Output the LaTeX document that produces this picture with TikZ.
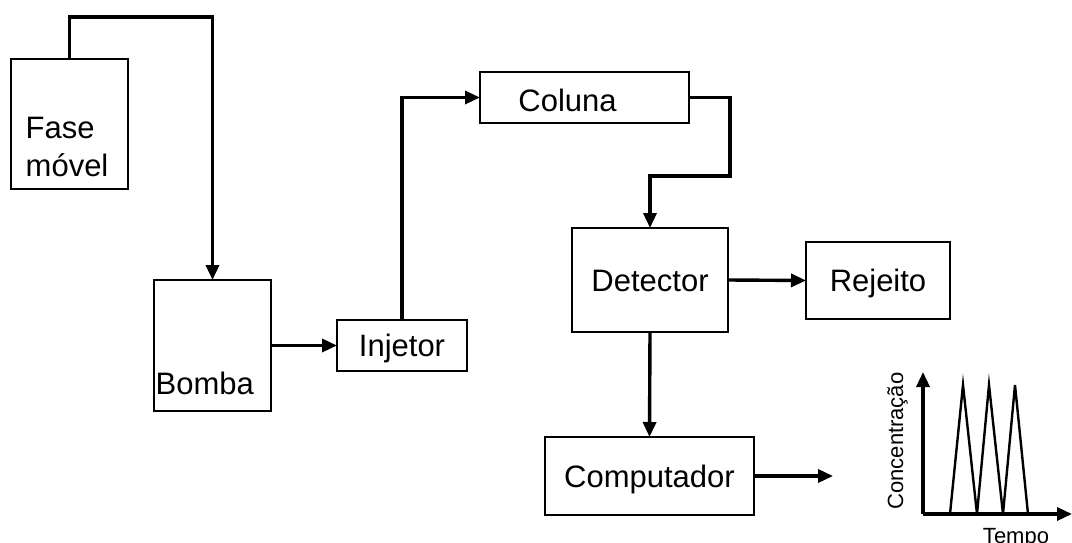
\documentclass[tikz,border=0pt]{standalone}
\usepackage{fontspec}
\setmainfont{Liberation Sans}
\usetikzlibrary{arrows.meta}

\tikzset{
  box/.style={draw, line width=2.4pt, inner sep=0pt, outer sep=0pt,
              text height=22pt, text depth=0pt, font=\fontsize{31}{38}\selectfont},
  boxtext/.style={inner sep=0pt, font=\fontsize{31}{38}\selectfont},
  axistext/.style={inner sep=0pt, font=\fontsize{22}{26}\selectfont},
  flow/.style={line width=3.4pt, -{Triangle[length=15pt,width=13pt]}},
  peak/.style={line width=2.4pt}
}

\begin{document}
\begin{tikzpicture}[x=1pt, y=-1pt]
    \useasboundingbox (0,0) rectangle (1072,543);
    \path node (fase) at (69.5,124) [box, minimum width=117pt, minimum height=130pt,
                label={[boxtext, anchor=base west, align=left, xshift=14.5pt, yshift=13pt]south west:Fase\\móvel}] {}
          node (bomba) at (212.5,345.5) [box, minimum width=117pt, minimum height=131pt,
                label={[boxtext, anchor=base west, xshift=1.5pt, yshift=17pt]south west:Bomba}] {}
          node (injetor) at (402,345.5) [box, minimum width=130pt, minimum height=51pt] {Injetor}
          node (coluna) at (584.5,97.5) [box, minimum width=209pt, minimum height=51pt,
                label={[boxtext, anchor=base, xshift=-17pt, yshift=11pt]south:Coluna}] {}
          node (detector) at (650,280) [box, minimum width=156pt, minimum height=104pt] {Detector}
          node (rejeito) at (878,280.5) [box, minimum width=144pt, minimum height=77pt] {Rejeito}
          node (computador) at (649.5,476) [box, minimum width=209pt, minimum height=78pt] {Computador};
    \coordinate (turn) at (730,176);
    \coordinate (saida) at (833,476);
    \draw [flow] (fase.north) -- ++(0,-42) -| (bomba.north);
    \draw [flow] (bomba.east) -- (injetor.west);
    \draw [flow] (injetor.north) |- (coluna.west);
    \draw [flow] (coluna.east) -| (turn) -| (detector.north);
    \draw [flow] (detector.east) -- (rejeito.west);
    \draw [flow] (detector.south) -- (computador.north);
    \draw [flow] (computador.east) -- (saida);
    % chromatogram
    \coordinate (origem) at (923,514);
    \coordinate (ytop) at (923,372);
    \coordinate (xend) at (1072,514);
    \draw [flow] (origem) -- (ytop);
    \draw [flow] (origem) -- (xend);
    \foreach \a/\b/\c in {950/963/977, 977/989/1003, 1003/1015/1028}
        \draw [peak] (\a,514) -- (\b,385) -- (\c,514);
    \node (conc) at (903,441) [axistext, rotate=90, anchor=base] {Concentração};
    \node (tempo) at (1016,543) [axistext, anchor=base] {Tempo};
\end{tikzpicture}
\end{document}
